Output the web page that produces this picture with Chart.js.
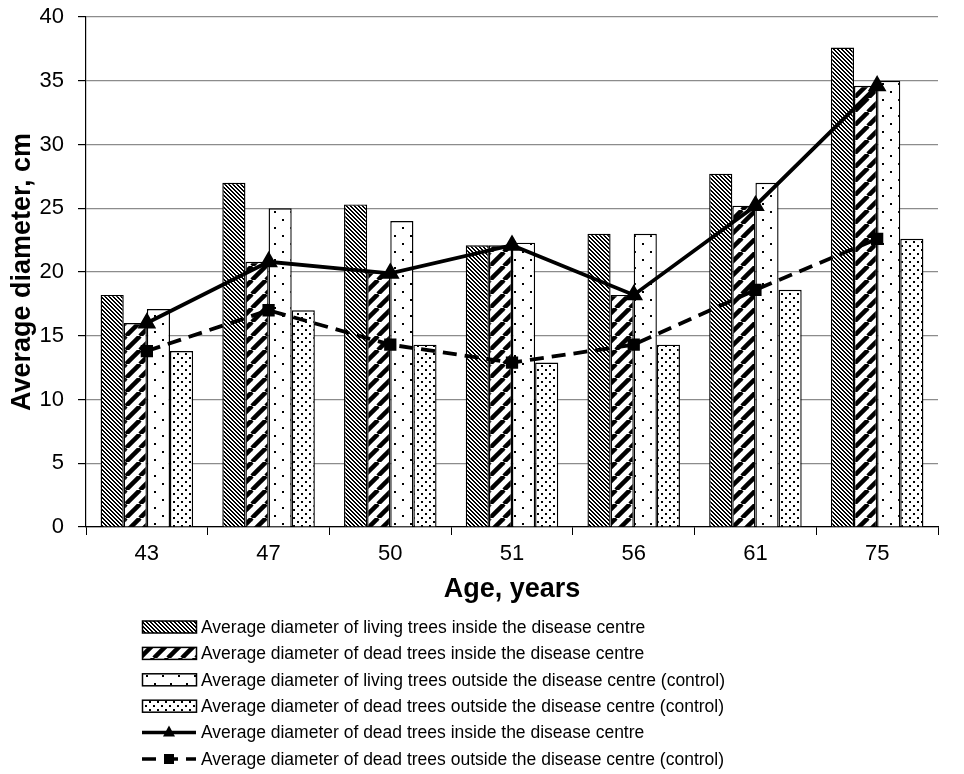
<!DOCTYPE html>
<html>
<head>
<meta charset="utf-8">
<script src="https://cdn.jsdelivr.net/npm/chart.js@4.4.1/dist/chart.umd.min.js"></script>
<style>
html, body { margin: 0; padding: 0; background: #fff; }
#wrap { width: 964px; height: 774px; }
</style>
</head>
<body>
<div id="wrap"><canvas id="chart" width="964" height="774"></canvas></div>
<script>
// values
const ages = ['43', '47', '50', '51', '56', '61', '75']
const livingInside = [18.2, 27.0, 25.3, 22.1, 23.0, 27.7, 37.6]
const deadInside = [16.0, 20.8, 20.0, 22.1, 18.2, 25.2, 34.6]
const livingOutside = [17.1, 25.0, 24.0, 22.3, 23.0, 27.0, 35.0]
const deadOutside = [13.8, 17.0, 14.3, 12.9, 14.3, 18.6, 22.6]
const lineInside = [16.0, 20.8, 19.9, 22.1, 18.2, 25.2, 34.6]
const lineOutside = [13.8, 17.0, 14.3, 12.9, 14.3, 18.6, 22.6]
const seriesNames = [
    'Average diameter of living trees inside the disease centre',
    'Average diameter of dead trees inside the disease centre',
    'Average diameter of living trees outside the disease centre (control)',
    'Average diameter of dead trees outside the disease centre (control)',
    'Average diameter of dead trees inside the disease centre',
    'Average diameter of dead trees outside the disease centre (control)'
]
const yTicks = [0, 5, 10, 15, 20, 25, 30, 35, 40]

const FONT = '"Liberation Sans", Arial, sans-serif'

// small tile patterns like the excel fills
const makePattern = (size, draw) => {
    const c = document.createElement('canvas')
    c.width = size
    c.height = size
    const g = c.getContext('2d')
    g.fillStyle = '#fff'
    g.fillRect(0, 0, size, size)
    g.fillStyle = '#000'
    g.strokeStyle = '#000'
    draw(g, size)
    return document.getElementById('chart').getContext('2d').createPattern(c, 'repeat')
}

// dense "\" stripes
const patDenseDown = makePattern(4, (g, s) => {
    for (let i = 0; i < s; i++) {
        g.fillRect(i, i, 2, 1)
        if (i === s - 1) g.fillRect(0, i, 1, 1)
    }
})
// wide "/" stripes
const patWideUp = makePattern(14, (g, s) => {
    g.lineWidth = 4.5
    for (let k = -1; k <= 1; k++) {
        g.beginPath()
        g.moveTo(k * s, s)
        g.lineTo(k * s + s, 0)
        g.stroke()
    }
})
// sparse dots
const patSparse = makePattern(16, (g, s) => {
    g.fillRect(2, 3, 2, 2)
    g.fillRect(10, 11, 2, 2)
})
// denser dots
const patDots = makePattern(8, (g, s) => {
    g.fillRect(1, 1, 2, 2)
    g.fillRect(5, 5, 2, 2)
})

const legendBelow = {
    id: 'legendBelow',
    afterDraw(chart) {
        const ctx = chart.ctx
        const x0 = 142, w = 54, textX = 201
        let y = 627
        const step = 26.4
        ctx.save()
        ctx.font = '17.5px ' + FONT
        ctx.textBaseline = 'middle'
        chart.data.datasets.forEach((ds, i) => {
            if (ds.type === 'line') {
                ctx.strokeStyle = '#000'
                ctx.lineWidth = 3.5
                ctx.setLineDash(ds.borderDash || [])
                ctx.beginPath()
                ctx.moveTo(x0, y)
                ctx.lineTo(x0 + w, y)
                ctx.stroke()
                ctx.setLineDash([])
                ctx.fillStyle = '#000'
                const cx = x0 + w / 2
                if (ds.pointStyle === 'triangle') {
                    ctx.beginPath()
                    ctx.moveTo(cx, y - 7)
                    ctx.lineTo(cx + 6, y + 4)
                    ctx.lineTo(cx - 6, y + 4)
                    ctx.closePath()
                    ctx.fill()
                } else {
                    ctx.fillRect(cx - 5, y - 5, 10, 10)
                }
            } else {
                ctx.fillStyle = ds.backgroundColor
                ctx.fillRect(x0, y - 6, w, 12)
                ctx.strokeStyle = '#000'
                ctx.lineWidth = 1.5
                ctx.strokeRect(x0 + 0.5, y - 6, w, 12)
            }
            ctx.fillStyle = '#000'
            ctx.fillText(ds.label, textX, y + 1)
            y += step
        })
        ctx.restore()
    }
}

const barSet = (i, data, fill) => ({
    type: 'bar',
    label: seriesNames[i],
    data: data,
    backgroundColor: fill,
    borderColor: '#000',
    borderWidth: 1.4,
    categoryPercentage: 0.76,
    barPercentage: 1.0,
    order: 2
})

const lineSet = (i, data, dash, style, radius) => ({
    type: 'line',
    label: seriesNames[i],
    data: data,
    borderColor: '#000',
    backgroundColor: '#000',
    borderWidth: 3.8,
    borderDash: dash,
    pointStyle: style,
    pointRadius: radius,
    pointBackgroundColor: '#000',
    pointBorderColor: '#000',
    tension: 0,
    order: 1
})

new Chart(document.getElementById('chart'), {
    data: {
        labels: ages,
        datasets: [
            barSet(0, livingInside, patDenseDown),
            barSet(1, deadInside, patWideUp),
            barSet(2, livingOutside, patSparse),
            barSet(3, deadOutside, patDots),
            lineSet(4, lineInside, [], 'triangle', 7),
            lineSet(5, lineOutside, [14, 8], 'rect', 6)
        ]
    },
    options: {
        responsive: false,
        animation: false,
        layout: { padding: { left: 4, right: 26, top: 0, bottom: 168 } },
        plugins: {
            legend: { display: false },
            tooltip: { enabled: false }
        },
        scales: {
            x: {
                grid: {
                    offset: true,
                    drawOnChartArea: false,
                    tickLength: 8,
                    color: '#000'
                },
                border: { color: '#000', width: 1.2 },
                ticks: { color: '#000', font: { family: FONT, size: 22 }, padding: 6 },
                title: {
                    display: true,
                    text: 'Age, years',
                    color: '#000',
                    font: { family: FONT, size: 27, weight: 'bold' },
                    padding: { top: 0, bottom: 0 }
                },
                afterFit: (s) => { s.height = 79 }
            },
            y: {
                min: 0,
                max: 40,
                afterBuildTicks: (s) => { s.ticks = yTicks.map(v => ({ value: v })) },
                grid: {
                    color: '#8c8c8c',
                    lineWidth: 1.2,
                    tickLength: 8,
                    tickColor: '#000'
                },
                border: { color: '#000', width: 1.2 },
                ticks: { color: '#000', font: { family: FONT, size: 22 }, padding: 14 },
                title: {
                    display: true,
                    text: 'Average diameter, cm',
                    color: '#000',
                    font: { family: FONT, size: 27, weight: 'bold' },
                    padding: { top: 2, bottom: 2 }
                },
                afterFit: (s) => {
                    s.width = 82
                    s.paddingTop = 17
                    s.paddingBottom = 0
                }
            }
        }
    },
    plugins: [legendBelow]
})
</script>
</body>
</html>
